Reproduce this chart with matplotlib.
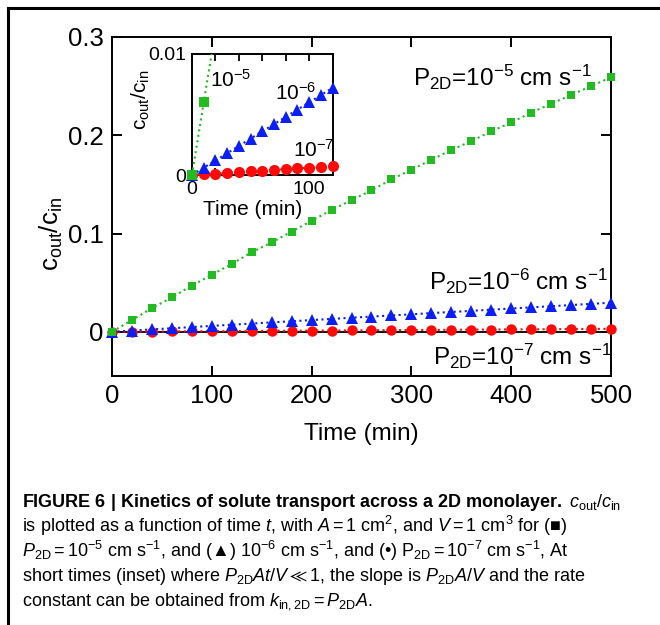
import matplotlib
matplotlib.use('Agg')
import matplotlib.pyplot as plt
from matplotlib.lines import Line2D
import numpy as np

plt.rcParams['font.family'] = ['Liberation Sans', 'DejaVu Sans']
plt.rcParams['mathtext.fontset'] = 'custom'
plt.rcParams['mathtext.rm'] = 'Liberation Sans'
plt.rcParams['mathtext.it'] = 'Liberation Sans:italic'
plt.rcParams['mathtext.bf'] = 'Liberation Sans:bold'
plt.rcParams['mathtext.fallback'] = 'stix'

# main panel, every 20 min
time_main = [0, 20, 40, 60, 80, 100, 120, 140, 160, 180, 200, 220, 240,
             260, 280, 300, 320, 340, 360, 380, 400, 420, 440, 460, 480, 500]
p5_main = [0, 0.012, 0.024, 0.035, 0.047, 0.058, 0.069, 0.081, 0.091, 0.102,
           0.113, 0.124, 0.134, 0.144, 0.155, 0.165, 0.175, 0.185, 0.194,
           0.204, 0.213, 0.223, 0.232, 0.241, 0.250, 0.259]
p6_main = [0, 0.0012, 0.0024, 0.0036, 0.0048, 0.0060, 0.0072, 0.0084, 0.0096,
           0.0107, 0.0119, 0.0131, 0.0143, 0.0155, 0.0166, 0.0178, 0.0190,
           0.0202, 0.0213, 0.0225, 0.0237, 0.0249, 0.0260, 0.0272, 0.0284, 0.0296]
p7_main = [0, 0.0001, 0.0002, 0.0004, 0.0005, 0.0006, 0.0007, 0.0008, 0.0010,
           0.0011, 0.0012, 0.0013, 0.0014, 0.0016, 0.0017, 0.0018, 0.0019,
           0.0020, 0.0022, 0.0023, 0.0024, 0.0025, 0.0026, 0.0028, 0.0029, 0.0030]

# inset, every 10 min
time_inset = [0, 10, 20, 30, 40, 50, 60, 70, 80, 90, 100, 110, 120]
p5_inset = [0, 0.0060, 0.0119]
p6_inset = [0, 0.0006, 0.0012, 0.0018, 0.0024, 0.0030, 0.0036, 0.0042,
            0.0048, 0.0054, 0.0060, 0.0066, 0.0072]
p7_inset = [0, 0.00006, 0.00012, 0.00018, 0.00024, 0.00030, 0.00036,
            0.00042, 0.00048, 0.00054, 0.00060, 0.00066, 0.00072]

main_xticks = [0, 100, 200, 300, 400, 500]
main_yticks = [0, 0.1, 0.2, 0.3]
main_yticklabels = ['0', '0.1', '0.2', '0.3']

green = '#22bb22'
blue = '#0a1ef5'
red = '#ff0a0a'

fig = plt.figure(figsize=(6.6, 6.25), dpi=100)

# frame (top and left edge only)
fig.add_artist(Line2D([8/660, 1], [1 - 8/625, 1 - 8/625], color='k', lw=2.2))
fig.add_artist(Line2D([8/660, 8/660], [0, 1 - 8/625], color='k', lw=2.2))

ax = fig.add_axes([112/660, 1 - 376/625, 499/660, 339/625])
ax.axhline(0, color='k', lw=1.3, zorder=1)
ax.plot(time_main, p7_main, ':', color=red, lw=1.5, marker='o', ms=7.5,
        markeredgewidth=0, clip_on=False, zorder=3)
ax.plot(time_main, p6_main, ':', color=blue, lw=1.5, marker='^', ms=8.5,
        markeredgewidth=0, clip_on=False, zorder=4)
ax.plot(time_main, p5_main, ':', color=green, lw=1.5, marker='s', ms=6,
        markeredgewidth=0, clip_on=False, zorder=5)
ax.set_xlim(0, 500)
ax.set_ylim(-0.045, 0.3)
ax.set_xticks(main_xticks)
ax.set_yticks(main_yticks)
ax.set_yticklabels(main_yticklabels)
ax.tick_params(direction='in', length=7, width=1.4, top=True, right=True,
               labelsize=18.5, pad=6)
for s in ax.spines.values():
    s.set_linewidth(1.4)
ax.set_xlabel('Time (min)', fontsize=17.5)
ax.xaxis.set_label_coords(0.5, -0.14)
ax.set_ylabel(r'c$\mathregular{_{out}}$/c$\mathregular{_{in}}$', fontsize=18.5)
ax.yaxis.set_label_coords(-0.095, 0.42)

ann = dict(fontsize=17.5, va='center', ha='left')
ax.text(302, 0.259, r'P$\mathregular{_{2D}}$=10$\mathregular{^{-5}}$ cm s$\mathregular{^{-1}}$', **ann)
ax.text(318, 0.0516, r'P$\mathregular{_{2D}}$=10$\mathregular{^{-6}}$ cm s$\mathregular{^{-1}}$', **ann)
ax.text(322, -0.0247, r'P$\mathregular{_{2D}}$=10$\mathregular{^{-7}}$ cm s$\mathregular{^{-1}}$', **ann)

# inset
axi = fig.add_axes([192/660, 1 - 175/625, 140.5/660, 121/625])
axi.plot(time_inset, p7_inset, ':', color=red, lw=1.5, marker='o', ms=8,
         markeredgewidth=0, clip_on=False, zorder=3)
axi.plot(time_inset, p6_inset, ':', color=blue, lw=1.5, marker='^', ms=9,
         markeredgewidth=0, clip_on=False, zorder=4)
axi.plot(time_inset[:3], p5_inset, ':', color=green, lw=1.5, zorder=5)
axi.plot(time_inset[:2], p5_inset[:2], 's', color=green, ms=6.5,
         markeredgewidth=0, clip_on=False, zorder=5)
axi.set_xlim(0, 120)
axi.set_ylim(0, 0.01)
axi.set_xticks([0, 20, 40, 60, 80, 100, 120])
axi.set_xticklabels(['0', '', '', '', '', '100', ''])
axi.set_yticks([0, 0.01])
axi.set_yticklabels(['0', '0.01'])
axi.tick_params(direction='in', length=5, width=1.3, top=True, right=False,
                labelsize=14, pad=4)
for s in axi.spines.values():
    s.set_linewidth(1.4)
axi.set_xlabel('Time (min)', fontsize=15)
axi.xaxis.set_label_coords(0.43, -0.21)
axi.set_ylabel(r'c$\mathregular{_{out}}$/c$\mathregular{_{in}}$', fontsize=15)
axi.yaxis.set_label_coords(-0.285, 0.62)

ins = dict(fontsize=15, va='center', ha='left')
axi.text(15, 0.0079, r'10$\mathregular{^{-5}}$', **ins)
axi.text(71, 0.0068, r'10$\mathregular{^{-6}}$', **ins)
axi.text(86, 0.0021, r'10$\mathregular{^{-7}}$', **ins)

# caption
cap_lines = [
    r'$\mathbf{FIGURE\ 6\ |\ Kinetics\ of\ solute\ transport\ across\ a\ 2D\ monolayer.}$ $c_{\rm out}/c_{\rm in}$',
    r'is plotted as a function of time $t$, with $A = 1\ {\rm cm}^2$, and $V = 1\ {\rm cm}^3$ for (■)',
    r'$P_{\rm 2D} = 10^{-5}\ {\rm cm\ s}^{-1}$, and (▲) $10^{-6}\ {\rm cm\ s}^{-1}$, and (•) ${\rm P}_{\rm 2D} = 10^{-7}\ {\rm cm\ s}^{-1}$, At',
    r'short times (inset) where $P_{\rm 2D}At/V \ll 1$, the slope is $P_{\rm 2D}A/V$ and the rate',
    r'constant can be obtained from $k_{\rm in,2D} = P_{\rm 2D}A$.',
]
cap_y = [507, 532, 557, 581, 606]
for line, yb in zip(cap_lines, cap_y):
    fig.text(22/660, 1 - yb/625, line, fontsize=13,
             va='baseline', ha='left')

fig.savefig('out.png', dpi=100)
